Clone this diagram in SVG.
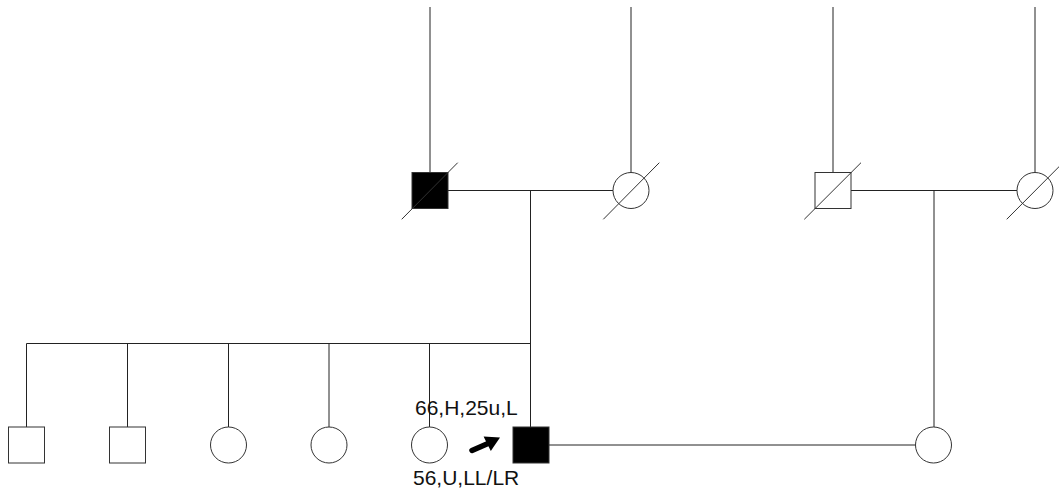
<svg xmlns="http://www.w3.org/2000/svg" width="1059" height="500" viewBox="0 0 1059 500">
<style>
.ln{stroke:#222;stroke-width:1;fill:none}
.sl{stroke:#333;stroke-width:1;fill:none}
.m{fill:#fff;stroke:#333;stroke-width:1}
.a{fill:#000;stroke:#333;stroke-width:1}
.t{font-family:"Liberation Sans",Arial,sans-serif;font-size:21px;fill:#111}
</style>
<rect width="1059" height="500" fill="#fff"/>
<g id="connectors">
<line class="ln" x1="430" y1="7" x2="430" y2="172.5"/>
<line class="ln" x1="631" y1="7" x2="631" y2="172.5"/>
<line class="ln" x1="833" y1="7" x2="833" y2="172.5"/>
<line class="ln" x1="1035" y1="7" x2="1035" y2="172.5"/>
<line class="ln" x1="448" y1="190.5" x2="613" y2="190.5"/>
<line class="ln" x1="851" y1="190.5" x2="1017" y2="190.5"/>
<line class="ln" x1="530.5" y1="190.5" x2="530.5" y2="427"/>
<line class="ln" x1="934" y1="190.5" x2="934" y2="427"/>
<line class="ln" x1="26.5" y1="343.5" x2="530.5" y2="343.5"/>
<line class="ln" x1="26.5" y1="343.5" x2="26.5" y2="427"/>
<line class="ln" x1="127.5" y1="343.5" x2="127.5" y2="427"/>
<line class="ln" x1="228.5" y1="343.5" x2="228.5" y2="427"/>
<line class="ln" x1="329" y1="343.5" x2="329" y2="427"/>
<line class="ln" x1="429.5" y1="343.5" x2="429.5" y2="427"/>
<line class="ln" x1="549" y1="445" x2="915.5" y2="445"/>
</g>
<g id="gf1">
<rect class="a" x="412" y="172.5" width="36" height="36"/>
<line class="sl" x1="401.7" y1="219.3" x2="457.7" y2="162.7"/>
</g>
<g id="gm1">
<circle class="m" cx="631" cy="190.5" r="18"/>
<line class="sl" x1="603.3" y1="219.3" x2="659.3" y2="162.7"/>
</g>
<g id="gf2">
<rect class="m" x="815" y="172.5" width="36" height="36"/>
<line class="sl" x1="804.3" y1="219.3" x2="861" y2="162.7"/>
</g>
<g id="gm2">
<circle class="m" cx="1035" cy="190.5" r="18"/>
<line class="sl" x1="1006.7" y1="219.3" x2="1063" y2="162.7"/>
</g>
<g id="sib1"><rect class="m" x="8.5" y="427" width="36" height="36"/></g>
<g id="sib2"><rect class="m" x="109.5" y="427" width="36" height="36"/></g>
<g id="sib3"><circle class="m" cx="228.5" cy="445" r="18"/></g>
<g id="sib4"><circle class="m" cx="329" cy="445" r="18"/></g>
<g id="sib5"><circle class="m" cx="429.5" cy="445" r="18"/></g>
<g id="proband">
<rect class="a" x="513" y="427" width="36" height="36"/>
<text class="t" x="415" y="415">66,H,25u,L</text>
<text class="t" x="413" y="485">56,U,LL/LR</text>
<line x1="472" y1="450.5" x2="488" y2="443.5" stroke="#000" stroke-width="5.5" stroke-linecap="round"/>
<polygon points="500,437.5 490.8,451 483.6,436.5" fill="#000"/>
</g>
<g id="spouse"><circle class="m" cx="933.5" cy="445" r="18"/></g>
</svg>
